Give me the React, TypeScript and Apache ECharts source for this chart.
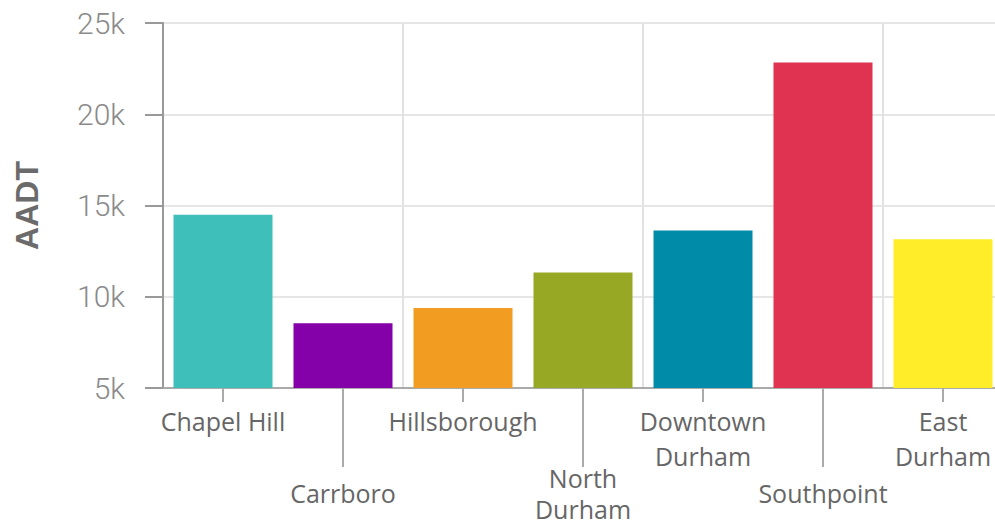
import React, { useEffect, useRef } from "react";
import * as echarts from "echarts";

const categories = [
  "Chapel Hill",
  "Carrboro",
  "Hillsborough",
  "North\nDurham",
  "Downtown\nDurham",
  "Southpoint",
  "East\nDurham",
];
const aadtValues = [14500, 8550, 9380, 11330, 13630, 22830, 13150];
const barColors = ["#3FBFB9", "#8400A8", "#F29C22", "#97A825", "#008CA8", "#E03352", "#FFED29"];
const yTicks = { min: 5000, max: 25000, interval: 5000 };
const yAxisName = "AADT";

export default function App() {
  const ref = useRef<HTMLDivElement>(null);
  useEffect(() => {
    if (!ref.current) return;
    const chart = echarts.init(ref.current, undefined, { renderer: "svg" });
    const labelStyle = {
      color: "#666666",
      fontFamily: "Open Sans",
      fontSize: 25,
    };
    chart.setOption({
      animation: false,
      grid: {
        left: 163,
        top: 23,
        width: 840,
        height: 365,
        containLabel: false,
        outerBoundsMode: "none",
      },
      xAxis: [
        {
          type: "category",
          position: "bottom",
          data: categories,
          axisLine: { show: true, lineStyle: { color: "#aaaaaa", width: 2 } },
          axisTick: {
            show: true,
            alignWithLabel: true,
            interval: (i: number) => i % 2 === 0,
            length: 14,
            lineStyle: { color: "#aaaaaa", width: 2 },
          },
          axisLabel: {
            interval: (i: number) => i % 2 === 0,
            margin: 15,
            verticalAlign: "top",
            lineHeight: 35,
            ...labelStyle,
          },
          splitLine: { show: true, lineStyle: { color: "#e2e2e2", width: 2 } },
        },
        {
          type: "category",
          position: "bottom",
          data: categories,
          axisLine: { show: false },
          axisTick: {
            show: true,
            alignWithLabel: true,
            interval: (i: number) => i % 2 === 1,
            length: 79,
            lineStyle: { color: "#aaaaaa", width: 2 },
          },
          axisLabel: {
            interval: (i: number) => i % 2 === 1,
            margin: 105,
            verticalAlign: "middle",
            lineHeight: 31,
            ...labelStyle,
          },
          splitLine: { show: false },
        },
      ],
      yAxis: {
        type: "value",
        min: yTicks.min,
        max: yTicks.max,
        interval: yTicks.interval,
        name: yAxisName,
        nameLocation: "middle",
        nameGap: 120,
        nameTextStyle: {
          color: "#6b6b6b",
          fontFamily: "Liberation Sans",
          fontWeight: "bold",
          fontSize: 32,
        },
        axisLine: { show: true, lineStyle: { color: "#999999", width: 2 } },
        axisTick: { show: true, length: 18, lineStyle: { color: "#999999", width: 2 } },
        axisLabel: {
          margin: 38,
          color: "#8a8a8a",
          fontFamily: "Roboto",
          fontWeight: 300,
          fontSize: 30,
          formatter: (v: number) => `${v / 1000}k`,
        },
        splitLine: { show: true, lineStyle: { color: "#e6e6e6", width: 2 } },
      },
      series: [
        {
          type: "bar",
          xAxisIndex: 0,
          barWidth: 99,
          data: aadtValues.map((v, i) => ({ value: v, itemStyle: { color: barColors[i] } })),
        },
      ],
    });
    return () => chart.dispose();
  }, []);
  return (
    <div
      ref={ref}
      style={{ position: "fixed", left: 0, top: 0, width: 995, height: 525, background: "#ffffff" }}
    />
  );
}
